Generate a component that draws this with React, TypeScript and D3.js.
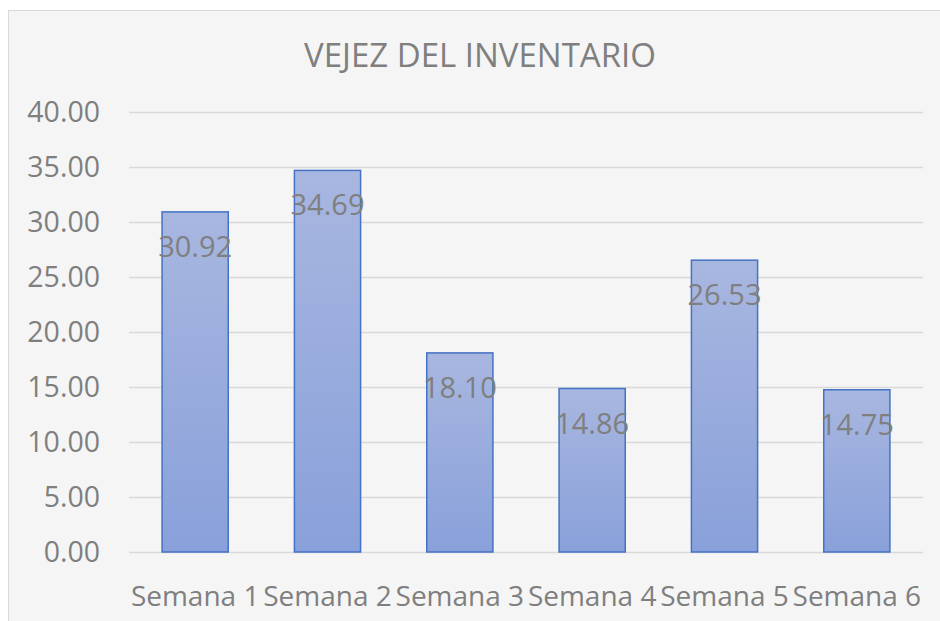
import React, { useEffect, useRef } from 'react';
import * as d3 from 'd3';

const categories = ['Semana 1', 'Semana 2', 'Semana 3', 'Semana 4', 'Semana 5', 'Semana 6'];
const values = [30.92, 34.69, 18.1, 14.86, 26.53, 14.75];
const yTicks = [0, 5, 10, 15, 20, 25, 30, 35, 40];
const title = 'VEJEZ DEL INVENTARIO';

const App = () => {
  const svgRef = useRef<SVGSVGElement>(null);

  useEffect(() => {
    const svg = d3.select(svgRef.current);
    svg.selectAll('*').remove();

    const width = 940;
    const height = 621;
    const margin = { top: 112, right: 17, bottom: 69, left: 129 };
    const font = "'Open Sans', 'Noto Sans', sans-serif";

    // panel
    svg.append('rect')
      .attr('x', 8.5).attr('y', 10.5)
      .attr('width', 940).attr('height', 640)
      .attr('fill', '#f5f5f5')
      .attr('stroke', '#d9d9d9');

    const defs = svg.append('defs');
    const grad = defs.append('linearGradient')
      .attr('id', 'barGrad')
      .attr('x1', 0).attr('y1', 0).attr('x2', 0).attr('y2', 1);
    grad.append('stop').attr('offset', '0%').attr('stop-color', '#a8b7e0');
    grad.append('stop').attr('offset', '100%').attr('stop-color', '#89a0da');

    const x = d3.scaleBand()
      .domain(categories)
      .range([margin.left, width - margin.right])
      .paddingInner(0.5)
      .paddingOuter(0.25);

    const y = d3.scaleLinear()
      .domain([0, 40])
      .range([height - margin.bottom, margin.top]);

    // gridlines
    svg.append('g')
      .selectAll('line')
      .data(yTicks)
      .join('line')
      .attr('x1', margin.left)
      .attr('x2', width - margin.right)
      .attr('y1', d => Math.round(y(d)) + 0.5)
      .attr('y2', d => Math.round(y(d)) + 0.5)
      .attr('stroke', '#d9d9d9')
      .attr('stroke-width', 1.5);

    // y labels
    svg.append('g')
      .selectAll('text')
      .data(yTicks)
      .join('text')
      .attr('x', 100)
      .attr('y', d => y(d))
      .attr('dy', '0.35em')
      .attr('text-anchor', 'end')
      .attr('font-family', font)
      .attr('font-size', 28.5)
      .attr('fill', '#7f7f7f')
      .text(d => d3.format('.2f')(d));

    // bars
    svg.append('g')
      .selectAll('rect')
      .data(values)
      .join('rect')
      .attr('x', (d, i) => x(categories[i])!)
      .attr('y', d => y(d))
      .attr('width', x.bandwidth())
      .attr('height', d => y(0) - y(d))
      .attr('fill', 'url(#barGrad)')
      .attr('stroke', '#4472c4')
      .attr('stroke-width', 1.5);

    // value labels
    svg.append('g')
      .selectAll('text')
      .data(values)
      .join('text')
      .attr('x', (d, i) => x(categories[i])! + x.bandwidth() / 2)
      .attr('y', d => y(d) + 45)
      .attr('text-anchor', 'middle')
      .attr('font-family', font)
      .attr('font-size', 29)
      .attr('fill', '#7f7f7f')
      .text(d => d3.format('.2f')(d));

    // category labels
    svg.append('g')
      .selectAll('text')
      .data(categories)
      .join('text')
      .attr('x', d => x(d)! + x.bandwidth() / 2)
      .attr('y', 606)
      .attr('text-anchor', 'middle')
      .attr('font-family', font)
      .attr('font-size', 28)
      .attr('fill', '#7f7f7f')
      .text(d => d);

    // title
    svg.append('text')
      .attr('x', 480)
      .attr('y', 67)
      .attr('text-anchor', 'middle')
      .attr('font-family', font)
      .attr('font-size', 33)
      .attr('fill', '#7f7f7f')
      .text(title);
  }, []);

  return (
    <div style={{ position: 'absolute', left: 0, top: 0 }}>
      <svg ref={svgRef} width={940} height={621} style={{ display: 'block' }}></svg>
    </div>
  );
};

export default App;
